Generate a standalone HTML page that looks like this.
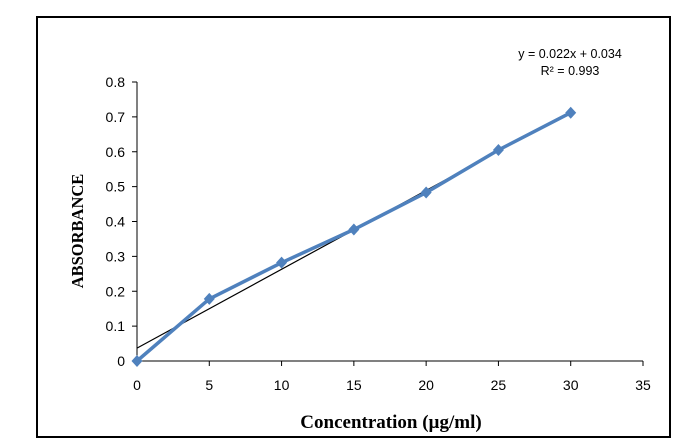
<!DOCTYPE html>
<html><head><meta charset="utf-8"><style>
body{margin:0;background:#fff;}
svg{display:block;font-family:"Liberation Sans",sans-serif;}
</style></head><body>
<svg id="chart" width="696" height="446">
<rect x="37" y="17" width="633" height="420" fill="none" stroke="#000" stroke-width="2"/>
<g id="axes"></g>
<g id="marks"></g>
<text x="570" y="58" font-size="12.5" text-anchor="middle">y = 0.022x + 0.034</text>
<text x="570" y="75" font-size="12.5" text-anchor="middle">R² = 0.993</text>
<text x="391" y="428" font-size="19" font-weight="bold" font-family="Liberation Serif,serif" text-anchor="middle">Concentration (µg/ml)</text>
<text transform="translate(83,231) rotate(-90)" font-size="16.5" font-weight="bold" font-family="Liberation Serif,serif" text-anchor="middle">ABSORBANCE</text>
</svg>
<script>
const concentrations=[0,5,10,15,20,25,30];
const absorbance=[0,0.178,0.282,0.377,0.483,0.605,0.712];
const xTicks=[0,5,10,15,20,25,30,35];
const yTicks=[0,0.1,0.2,0.3,0.4,0.5,0.6,0.7,0.8];
const trendSlope=0.0226;
const trendIntercept=0.037;
const NS="http://www.w3.org/2000/svg";
const X=v=>137+v*(643-137)/35;
const Y=v=>361-v*(361-82)/0.8;
function mk(t,a,p){const e=document.createElementNS(NS,t);for(const k in a)e.setAttribute(k,a[k]);p.appendChild(e);return e;}
const ax=document.getElementById('axes'),mg=document.getElementById('marks');
let l=mk('line',{x1:X(0),y1:Y(0),x2:X(0),y2:Y(0.8),stroke:'#000'},ax);


l=mk('line',{x1:X(0),y1:Y(0),x2:X(35),y2:Y(0),stroke:'#000'},ax);


yTicks.forEach(v=>{mk('line',{x1:X(0)-5,y1:Y(v),x2:X(0),y2:Y(v),stroke:'#000'},ax);
const t=mk('text',{x:X(0)-12,y:Y(v)+5,'font-size':14,'text-anchor':'end'},ax);t.textContent=String(v);

});
xTicks.forEach(v=>{mk('line',{x1:X(v),y1:Y(0),x2:X(v),y2:Y(0)+5,stroke:'#000'},ax);
const t=mk('text',{x:X(v),y:Y(0)+29,'font-size':14,'text-anchor':'middle'},ax);t.textContent=String(v);

});
const xs=concentrations[concentrations.length-1];
l=mk('line',{x1:X(0),y1:Y(trendIntercept),x2:X(xs),y2:Y(trendIntercept+trendSlope*xs),stroke:'#000','stroke-width':1.2},mg);


const pl=mk('polyline',{points:concentrations.map((c,i)=>X(c)+','+Y(absorbance[i])).join(' '),fill:'none',stroke:'#4f81bd','stroke-width':3.5},mg);


concentrations.forEach((c,i)=>{const x=X(c),y=Y(absorbance[i]);
const d=mk('polygon',{points:`${x},${y-6} ${x+5.5},${y} ${x},${y+6} ${x-5.5},${y}`,fill:'#4f81bd'},mg);

});
</script>
</body></html>
